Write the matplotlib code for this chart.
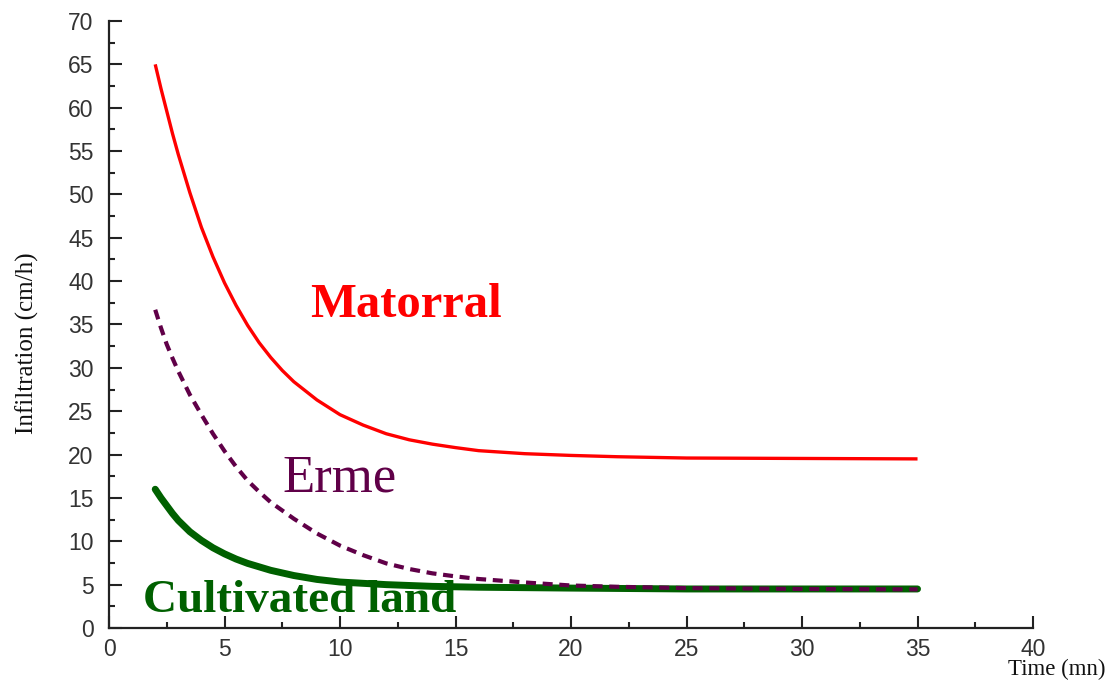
import numpy as np
import matplotlib
matplotlib.use("Agg")
import matplotlib.pyplot as plt
from matplotlib.ticker import MultipleLocator

# values
time_matorral = [2, 2.25, 2.5, 2.75, 3, 3.5, 4, 4.5, 5, 5.5, 6, 6.5, 7, 7.5, 8, 9, 10, 11, 12, 13,
                 14, 15, 16, 18, 20, 22, 25, 30, 35]
infil_matorral = [65, 62.2, 59.6, 57.0, 54.6, 50.2, 46.2, 42.8, 39.8, 37.2, 34.9, 32.9, 31.2, 29.7,
                  28.4, 26.3, 24.6, 23.4, 22.4, 21.7, 21.2, 20.8, 20.45, 20.1, 19.9, 19.75, 19.6,
                  19.55, 19.5]

time_erme = [2, 2.25, 2.5, 2.75, 3, 3.5, 4, 4.5, 5, 5.5, 6, 6.5, 7, 8, 9, 10, 11, 12, 13, 14, 15,
             16, 18, 20, 22, 25, 30, 35]
infil_erme = [36.7, 34.6, 32.7, 31.1, 29.6, 26.9, 24.6, 22.4, 20.4, 18.6, 17.0, 15.7, 14.5, 12.6,
              10.9, 9.5, 8.4, 7.45, 6.8, 6.3, 5.95, 5.65, 5.25, 4.9, 4.75, 4.6, 4.5, 4.45]

time_cult = [2, 2.25, 2.5, 2.75, 3, 3.5, 4, 4.5, 5, 5.5, 6, 7, 8, 9, 10, 12, 14, 16, 20, 25, 30, 35]
infil_cult = [16.0, 15.0, 14.1, 13.2, 12.4, 11.1, 10.1, 9.25, 8.55, 7.95, 7.45, 6.65, 6.05, 5.6,
              5.3, 5.0, 4.8, 4.7, 4.6, 4.5, 4.5, 4.5]

red = "#ff0000"
purple = "#600048"
green = "#006000"

fig = plt.figure(figsize=(11.09, 6.84), dpi=100)
ax = fig.add_axes([0.0983, 0.0819, 0.8332, 0.8874])

ax.plot(time_matorral, infil_matorral, color=red, lw=2.4, solid_capstyle="butt")
ax.plot(time_cult, infil_cult, color=green, lw=5.0, solid_capstyle="round")
ax.plot(time_erme, infil_erme, color=purple, lw=3.0, dashes=(2.4, 1.6))

ax.set_xlim(0, 40)
ax.set_ylim(0, 70)
ax.xaxis.set_major_locator(MultipleLocator(5))
ax.xaxis.set_minor_locator(MultipleLocator(2.5))
ax.yaxis.set_major_locator(MultipleLocator(5))
ax.yaxis.set_minor_locator(MultipleLocator(2.5))

for s in ["top", "right"]:
    ax.spines[s].set_visible(False)
for s in ["left", "bottom"]:
    ax.spines[s].set_linewidth(1.6)
    ax.spines[s].set_color("#222222")

ax.tick_params(which="major", direction="in", length=9, width=1.5, colors="#222222",
               labelsize=16.5, labelcolor="#333333")
ax.tick_params(which="minor", direction="in", length=4.5, width=1.5, colors="#222222")
ax.tick_params(axis="x", which="major", pad=7)
ax.tick_params(axis="y", which="major", pad=11)
for lab in ax.get_xticklabels() + ax.get_yticklabels():
    lab.set_fontfamily("Liberation Sans")

ax.text(8.7, 35.9, "Matorral", color=red, fontsize=35, fontweight="bold",
        family="Liberation Serif", ha="left", va="baseline")
ax.text(7.5, 15.7, "Erme", color=purple, fontsize=38,
        family="Liberation Serif", ha="left", va="baseline")
ax.text(1.45, 1.88, "Cultivated land", color=green, fontsize=34, fontweight="bold",
        family="Liberation Serif", ha="left", va="baseline")

fig.text(0.9964, 0.0125, "Time (mn)", fontsize=16.5, family="Liberation Serif",
         ha="right", va="baseline", color="#111111")
fig.text(0.0243, 0.4985, "Infiltration (cm/h)", fontsize=18, family="Liberation Serif",
         rotation=90, ha="center", va="center", color="#111111")

fig.savefig("out.png", dpi=100)
